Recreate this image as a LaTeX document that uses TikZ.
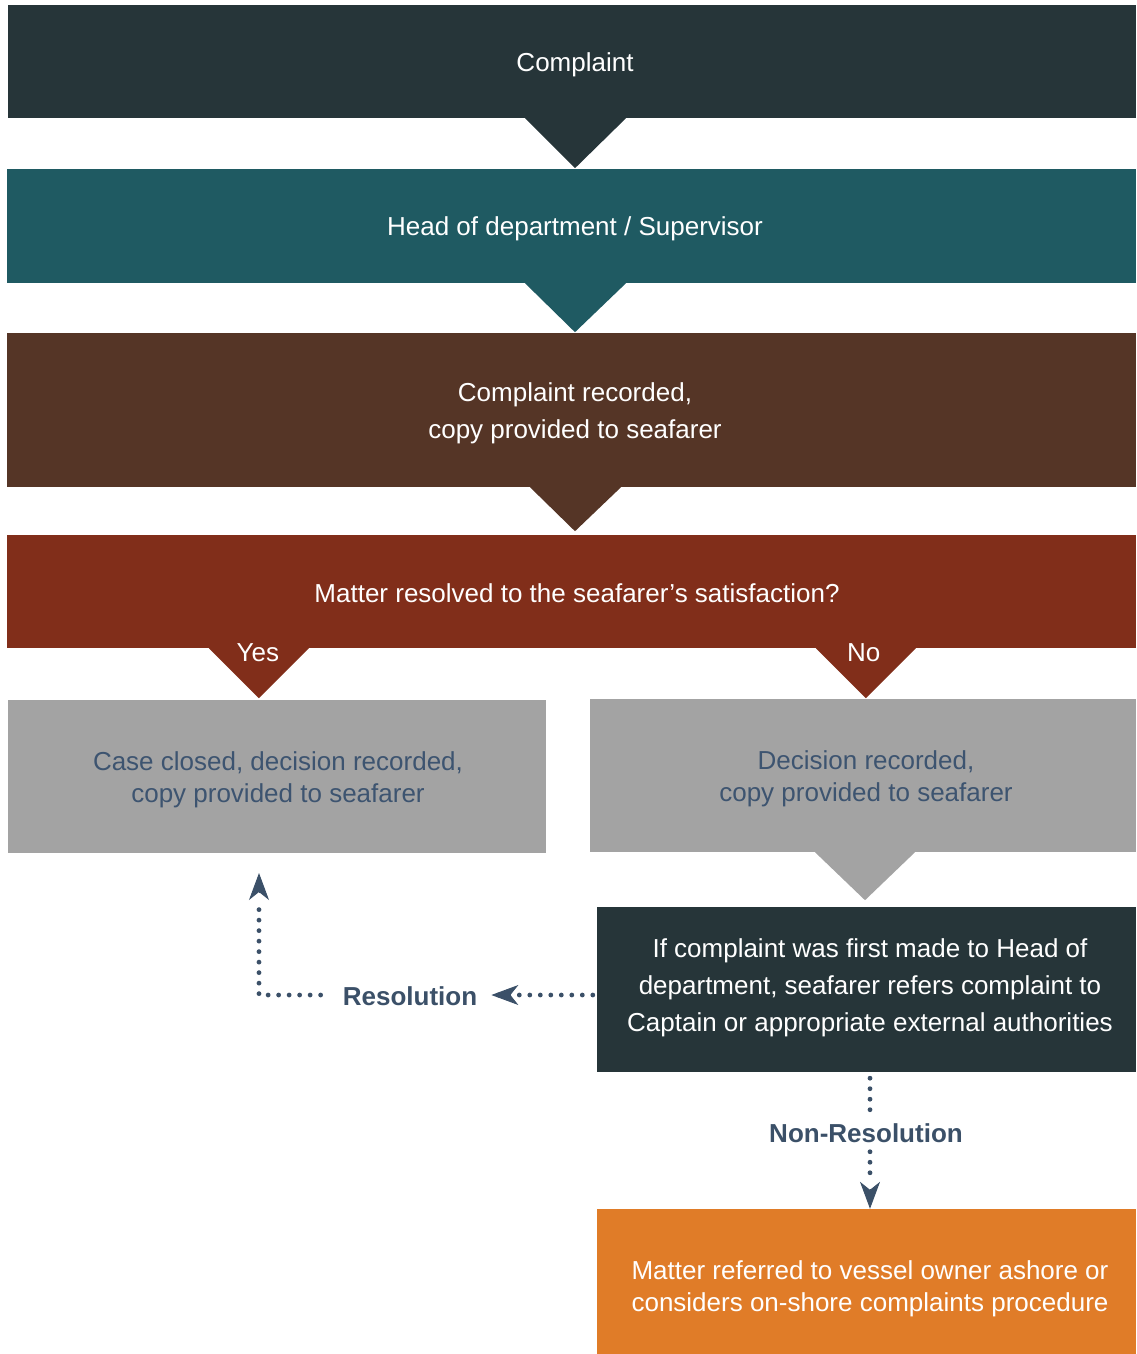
\documentclass[tikz,border=0pt]{standalone}
\usepackage{fontspec}
\setmainfont{Liberation Sans}
\usetikzlibrary{arrows.meta,calc}
\definecolor{cdark}{HTML}{263539}
\definecolor{cteal}{HTML}{1F5A62}
\definecolor{cbrown}{HTML}{553526}
\definecolor{cred}{HTML}{812E1A}
\definecolor{cgray}{HTML}{A3A3A3}
\definecolor{ctext}{HTML}{3D5470}
\definecolor{carrow}{HTML}{3B5068}
\definecolor{corange}{HTML}{E07C28}
\tikzset{
  box/.style={rectangle, inner sep=0pt},
  txt/.style={inner sep=0pt, align=center, text=white, font=\fontsize{26}{37}\selectfont},
  graytxt/.style={txt, text=ctext, font=\fontsize{26}{32}\selectfont},
  lbl/.style={inner sep=2pt, text=carrow, font=\bfseries\fontsize{26}{30}\selectfont},
  dots/.style={draw=carrow, line width=4.8pt, line cap=round, dash pattern=on 0pt off 10.5pt},
  tip/.style={-{Stealth[length=27pt,width=20pt,inset=8pt]}},
}
\begin{document}
\begin{tikzpicture}[x=1pt,y=-1pt]
\useasboundingbox (0,0) rectangle (1136,1354);
% boxes
\node[box, fill=cdark, minimum width=1128pt, minimum height=113pt] (b1) at (572,61.5) {};
\node[box, fill=cteal, minimum width=1129pt, minimum height=114pt] (b2) at (571.5,226) {};
\node[box, fill=cbrown, minimum width=1129pt, minimum height=154pt] (b3) at (571.5,410) {};
\node[box, fill=cred, minimum width=1129pt, minimum height=113pt] (b4) at (571.5,591.5) {};
\node[box, fill=cgray, minimum width=538pt, minimum height=153pt] (b5) at (277,776.5) {};
\node[box, fill=cgray, minimum width=546pt, minimum height=153pt] (b6) at (863,775.5) {};
\node[box, fill=cdark, minimum width=539pt, minimum height=165pt] (b7) at (866.5,989.5) {};
\node[box, fill=corange, minimum width=539pt, minimum height=145pt] (b8) at (866.5,1281.5) {};
% texts
\node[txt] (t1) at (575,64.5) {Complaint};
\node[txt] (t2) at (575,228.5) {Head of department / Supervisor};
\node[txt] (t3) at (575,413.5) {Complaint recorded,\\copy provided to seafarer};
\node[txt] (t4) at (577,593) {Matter resolved to the seafarer’s satisfaction?};
\node[graytxt] (t5) at (278,779.5) {Case closed, decision recorded,\\copy provided to seafarer};
\node[graytxt] (t6) at (866,778.5) {Decision recorded,\\copy provided to seafarer};
\node[txt] (t7) at (870,987.5) {If complaint was first made to Head of\\department, seafarer refers complaint to\\Captain or appropriate external authorities};
\node[txt, font=\fontsize{26}{32}\selectfont] (t8) at (870,1288.5) {Matter referred to vessel owner ashore or\\considers on-shore complaints procedure};
% triangles (connectors between boxes)
\fill[cdark] ($(b1.south)+(-47,0)$) -- ($(b1.south)+(54,0)$) -- ($(b1.south)+(3,50)$) -- cycle;
\fill[cteal] ($(b2.south)+(-46.5,0)$) -- ($(b2.south)+(54.5,0)$) -- ($(b2.south)+(3.5,49)$) -- cycle;
\fill[cbrown] ($(b3.south)+(-41.5,0)$) -- ($(b3.south)+(49.5,0)$) -- ($(b3.south)+(3.5,44)$) -- cycle;
\coordinate (yesc) at ($(b4.south west)+(252,0)$);
\coordinate (noc) at ($(b4.south west)+(859,0)$);
\fill[cred] ($(yesc)+(-50,0)$) -- ($(yesc)+(50,0)$) -- ($(yesc)+(0,50)$) -- cycle;
\fill[cred] ($(noc)+(-50,0)$) -- ($(noc)+(50,0)$) -- ($(noc)+(0,50)$) -- cycle;
\node[txt] (yes) at ($(yesc)+(-1,4)$) {Yes};
\node[txt] (no) at ($(noc)+(-2,4)$) {No};
\fill[cgray] ($(b6.south)+(-48,0)$) -- ($(b6.south)+(52,0)$) -- ($(b6.south)+(2,48)$) -- cycle;
% labels
\node[lbl] (res) at (410,996) {Resolution};
\node[lbl] (nonres) at (866,1133) {Non-Resolution};
\coordinate (corner) at (259,995);
\coordinate (uptip) at (259,873);
% dotted connectors
\draw[dots] ($(b7.west)+(-4,5.5)$) -- ($(res.east)+(15,-1)$);
\draw[carrow, tip, line width=1pt] ($(res.east)+(27,-1)$) -- ($(res.east)+(12,-1)$);
\draw[dots] ($(res.west)+(-20,-1)$) -- (corner) -- ($(uptip)+(0,30)$);
\draw[carrow, tip, line width=1pt] ($(uptip)+(0,20)$) -- (uptip);
\draw[dots] ($(b7.south)+(3.5,6)$) -- ($(nonres.north)+(4,-9)$);
\draw[dots] ($(nonres.south)+(4,7)$) -- ($(b8.north)+(3.5,-28)$);
\draw[carrow, tip, line width=1pt] ($(b8.north)+(3.5,-20)$) -- ($(b8.north)+(3.5,0)$);
\end{tikzpicture}
\end{document}
